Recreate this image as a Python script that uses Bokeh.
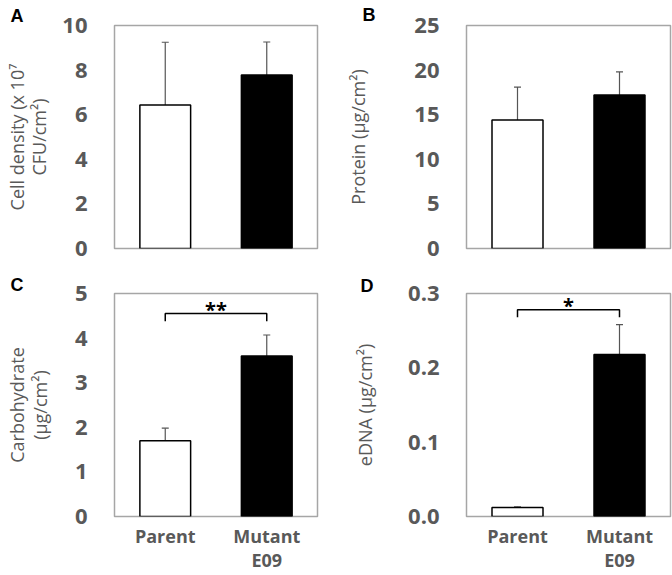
from bokeh.plotting import figure
from bokeh.models import (Range1d, FactorRange, FixedTicker, Whisker, ColumnDataSource,
                          Label, TeeHead, NumeralTickFormatter)
from bokeh.layouts import column, row
from bokeh.embed import file_html
from bokeh.resources import INLINE

# ---------------- data ----------------
categories = ["Parent", "Mutant\nE09"]
bar_fills = ["white", "black"]

cell_density = [6.43, 7.78]
cell_density_err = [2.82, 1.48]
cell_density_ticks = [0, 2, 4, 6, 8, 10]

protein = [14.4, 17.2]
protein_err = [3.7, 2.6]
protein_ticks = [0, 5, 10, 15, 20, 25]

carbohydrate = [1.70, 3.60]
carbohydrate_err = [0.28, 0.47]
carbohydrate_ticks = [0, 1, 2, 3, 4, 5]
carbohydrate_sig = "**"
carbohydrate_sig_y = 4.55
carbohydrate_sig_drop = 0.17

edna = [0.012, 0.218]
edna_err = [0.001, 0.040]
edna_ticks = [0.0, 0.1, 0.2, 0.3]
edna_sig = "*"
edna_sig_y = 0.278
edna_sig_drop = 0.010

GRAY = "#595959"
FONT = "Open Sans"
FRAME_H = 223


def make_panel(letter, letter_x, letter_y, values, errs, ticks, ylabel, fmt, show_x,
               border_left, border_right, border_top, border_bottom,
               frame_w, label_standoff, sig=None):
    p = figure(x_range=FactorRange(*categories), y_range=Range1d(ticks[0], ticks[-1]),
               frame_width=frame_w, frame_height=FRAME_H,
               min_border_left=border_left, min_border_right=border_right,
               min_border_top=border_top, min_border_bottom=border_bottom,
               output_backend="svg", toolbar_location=None)
    p.xgrid.visible = False
    p.ygrid.visible = False
    p.outline_line_color = "#a6a6a6"
    p.outline_line_width = 1.5
    p.background_fill_color = "white"
    p.border_fill_color = "white"

    src = ColumnDataSource(dict(
        x=categories, top=values,
        upper=[v + e for v, e in zip(values, errs)],
        lower=[v - e for v, e in zip(values, errs)],
        fill=bar_fills))
    p.vbar(x="x", top="top", width=0.5, source=src, fill_color="fill",
           line_color="black", line_width=1.5)
    w = Whisker(base="x", upper="upper", lower="lower", source=src,
                line_color="#555555", line_width=1.2,
                upper_head=TeeHead(size=7, line_color="#555555", line_width=1.2),
                lower_head=TeeHead(size=7, line_color="#555555", line_width=1.2))
    p.add_layout(w)

    ax = p.yaxis[0]
    ax.ticker = FixedTicker(ticks=ticks)
    if fmt:
        ax.formatter = NumeralTickFormatter(format=fmt)
    ax.major_label_text_font = FONT
    ax.major_label_text_font_style = "bold"
    ax.major_label_text_font_size = "22px"
    ax.major_label_text_color = GRAY
    ax.major_tick_line_color = None
    ax.minor_tick_line_color = None
    ax.major_tick_out = 0
    ax.major_tick_in = 0
    ax.axis_line_color = None
    ax.major_label_standoff = 27
    ax.axis_label = ylabel
    ax.axis_label_text_font = FONT
    ax.axis_label_text_font_style = "normal"
    ax.axis_label_text_font_size = "18px"
    ax.axis_label_text_line_height = 0.94
    ax.axis_label_text_color = GRAY
    ax.axis_label_standoff = label_standoff

    xa = p.xaxis[0]
    if show_x:
        xa.major_label_text_font = FONT
        xa.major_label_text_font_style = "bold"
        xa.major_label_text_font_size = "18px"
        xa.major_label_text_color = GRAY
        xa.major_label_text_line_height = 1.0
        xa.major_tick_line_color = None
        xa.major_tick_out = 0
        xa.major_tick_in = 0
        xa.axis_line_color = None
        xa.major_label_standoff = 7
    else:
        xa.visible = False

    if sig is not None:
        text, sy, drop = sig
        p.line(x=[categories[0], categories[0], categories[1], categories[1]],
               y=[sy - drop, sy, sy, sy - drop], line_color="black", line_width=1.5)
        p.add_layout(Label(x=1.0, y=sy, text=text, text_align="center",
                           text_baseline="bottom", y_offset=-9,
                           text_font=FONT, text_font_style="bold",
                           text_font_size="20px", text_color="black"))

    # panel letter in the top border panel (screen units relative to that panel)
    p.add_layout(Label(x=letter_x, y=letter_y, x_units="screen", y_units="screen",
                       text=letter, text_align="left", text_baseline="top",
                       text_font="Liberation Sans", text_font_style="bold",
                       text_font_size="18px", text_color="black"), "above")
    return p


pA = make_panel("A", -104, 20, cell_density, cell_density_err, cell_density_ticks,
                "Cell density (x 10\u2077\nCFU/cm\u00b2)", None, False,
                114, 19, 25, 24, 203, 8)
pB = make_panel("B", -104, 21, protein, protein_err, protein_ticks,
                "Protein (\u03bcg/cm\u00b2)", None, False,
                130, 2, 25, 24, 204, 41)
pC = make_panel("C", -104, 19, carbohydrate, carbohydrate_err, carbohydrate_ticks,
                "Carbohydrate\n(\u03bcg/cm\u00b2)", None, True,
                114, 19, 21, 57, 203, 20,
                sig=(carbohydrate_sig, carbohydrate_sig_y, carbohydrate_sig_drop))
pD = make_panel("D", -106, 18, edna, edna_err, edna_ticks,
                "eDNA (\u03bcg/cm\u00b2)", "0.0", True,
                130, 2, 21, 57, 204, 28,
                sig=(edna_sig, edna_sig_y, edna_sig_drop))

layout = column(row(pA, pB), row(pC, pD))
open("out.html", "w").write(file_html(layout, INLINE))
